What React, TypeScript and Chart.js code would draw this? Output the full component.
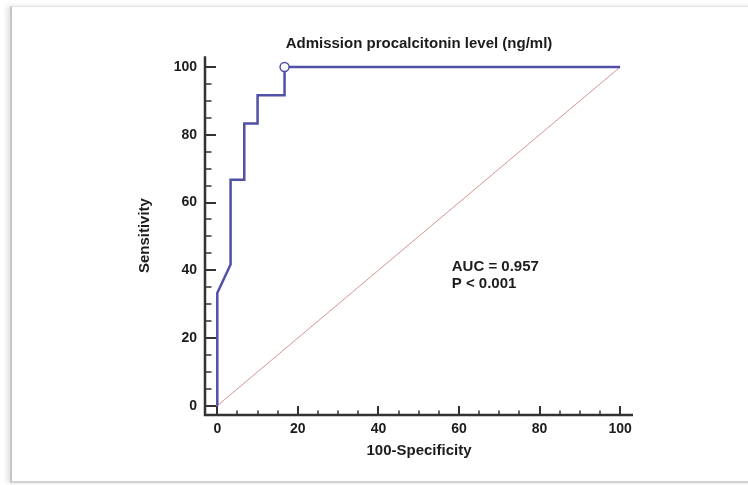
import React, { useEffect, useRef } from 'react';
import { Chart, registerables } from 'chart.js';

Chart.register(...registerables);

const CHART_TITLE = 'Admission procalcitonin level (ng/ml)';
const X_TITLE = '100-Specificity';
const Y_TITLE = 'Sensitivity';

// ROC curve (100-Specificity, Sensitivity)
const rocFpr = [0, 0, 3.3, 3.3, 6.7, 6.7, 10, 10, 16.7, 16.7, 100];
const rocTpr = [0, 33.3, 41.7, 66.7, 66.7, 83.3, 83.3, 91.7, 91.7, 100, 100];
const markerIndex = 9;

// Reference diagonal
const refFpr = [0, 100];
const refTpr = [0, 100];

const majorTicks = [0, 20, 40, 60, 80, 100];
const minorTicks = [5, 10, 15, 25, 30, 35, 45, 50, 55, 65, 70, 75, 85, 90, 95];

const annotationLines = ['AUC = 0.957', 'P < 0.001'];
const annotationX = 58.2;
const annotationY = 41;

const FONT = 'Liberation Sans, Arial, sans-serif';
const TEXT = '#1c1c1c';
const AXIS = '#333333';
const ROC_COLOR = '#5050a8';

const axesPlugin = {
  id: 'customAxes',
  beforeDatasetsDraw(chart: any) {
    const { ctx, chartArea, scales } = chart;
    const xs = scales.x;
    const ys = scales.y;
    ctx.save();
    ctx.strokeStyle = AXIS;
    ctx.lineCap = 'butt';
    ctx.lineWidth = 2.5;
    ctx.beginPath();
    ctx.moveTo(chartArea.left, chartArea.top);
    ctx.lineTo(chartArea.left, chartArea.bottom);
    ctx.lineTo(chartArea.right, chartArea.bottom);
    ctx.stroke();
    ctx.lineWidth = 2;
    ctx.beginPath();
    majorTicks.forEach((v) => {
      const y = Math.round(ys.getPixelForValue(v));
      ctx.moveTo(chartArea.left, y);
      ctx.lineTo(chartArea.left + 11, y);
      const x = Math.round(xs.getPixelForValue(v));
      ctx.moveTo(x, chartArea.bottom);
      ctx.lineTo(x, chartArea.bottom - 9);
    });
    ctx.stroke();
    ctx.lineWidth = 1.5;
    ctx.beginPath();
    minorTicks.forEach((v) => {
      const y = Math.round(ys.getPixelForValue(v));
      ctx.moveTo(chartArea.left, y);
      ctx.lineTo(chartArea.left + 6.5, y);
      const x = Math.round(xs.getPixelForValue(v));
      ctx.moveTo(x, chartArea.bottom);
      ctx.lineTo(x, chartArea.bottom - 4.5);
    });
    ctx.stroke();
    ctx.restore();
  },
  afterDatasetsDraw(chart: any) {
    const { ctx, scales } = chart;
    const x = scales.x.getPixelForValue(annotationX);
    const y = scales.y.getPixelForValue(annotationY);
    ctx.save();
    ctx.fillStyle = TEXT;
    ctx.font = `bold 15px ${FONT}`;
    ctx.textAlign = 'left';
    ctx.textBaseline = 'middle';
    annotationLines.forEach((t, i) => ctx.fillText(t, x, y + i * 16.6));
    ctx.restore();
  },
};

export default function App() {
  const ref = useRef<HTMLCanvasElement>(null);

  useEffect(() => {
    if (!ref.current) return;
    const chart = new Chart(ref.current, {
      type: 'line',
      data: {
        datasets: [
          {
            label: 'ROC',
            data: rocFpr.map((x, i) => ({ x, y: rocTpr[i] })),
            borderColor: ROC_COLOR,
            borderWidth: 2.5,
            tension: 0,
            fill: false,
            pointRadius: rocFpr.map((_, i) => (i === markerIndex ? 4.5 : 0)),
            pointBackgroundColor: '#ffffff',
            pointBorderColor: ROC_COLOR,
            pointBorderWidth: 1.5,
            clip: false,
          },
          {
            label: 'Reference',
            data: refFpr.map((x, i) => ({ x, y: refTpr[i] })),
            borderColor: 'rgba(205, 110, 110, 0.75)',
            borderWidth: 1,
            pointRadius: 0,
            tension: 0,
            fill: false,
          },
        ],
      },
      options: {
        responsive: false,
        animation: false,
        layout: { padding: { top: 0, left: 0, right: 115, bottom: 0 } },
        plugins: {
          legend: { display: false },
          tooltip: { enabled: false },
          title: {
            display: true,
            fullSize: false,
            text: CHART_TITLE,
            color: TEXT,
            font: { family: FONT, size: 15, weight: 'bold' },
            padding: { top: 35, bottom: 3.2 },
          },
        },
        scales: {
          x: {
            type: 'linear',
            min: -3.05,
            max: 103.2,
            afterBuildTicks: (s: any) => {
              s.ticks = majorTicks.map((v) => ({ value: v }));
            },
            afterFit: (s: any) => {
              s.height = 70;
            },
            ticks: {
              autoSkip: false,
              maxRotation: 0,
              padding: 6,
              color: TEXT,
              font: { family: FONT, size: 14, weight: 'bold' },
            },
            grid: { display: false, drawTicks: false },
            border: { display: false },
            title: {
              display: true,
              text: X_TITLE,
              color: TEXT,
              font: { family: FONT, size: 15, weight: 'bold' },
              padding: { top: 0, bottom: 25 },
            },
          },
          y: {
            type: 'linear',
            min: -2.74,
            max: 103.2,
            afterBuildTicks: (s: any) => {
              s.ticks = majorTicks.map((v) => ({ value: v }));
            },
            afterFit: (s: any) => {
              s.width = 205;
            },
            ticks: {
              autoSkip: false,
              padding: 8,
              color: TEXT,
              font: { family: FONT, size: 14, weight: 'bold' },
            },
            grid: { display: false, drawTicks: false },
            border: { display: false },
            title: {
              display: true,
              text: Y_TITLE,
              color: TEXT,
              font: { family: FONT, size: 15, weight: 'bold' },
              padding: { top: 136, bottom: 0 },
            },
          },
        },
      },
      plugins: [axesPlugin],
    });
    return () => chart.destroy();
  }, []);

  return (
    <div
      style={{
        position: 'fixed',
        left: 0,
        top: 0,
        width: 748,
        height: 485,
        overflow: 'hidden',
        background: '#ffffff',
      }}
    >
      <div
        style={{
          position: 'absolute',
          left: 10,
          top: 6,
          width: 800,
          height: 474,
          borderLeft: '2px solid #c6c6c6',
          borderTop: '1px solid #e4e4e4',
          borderBottom: '2px solid #d2d2d2',
          boxShadow: '-3px 0 5px rgba(0,0,0,0.12)',
          background: '#ffffff',
        }}
      />
      <canvas
        ref={ref}
        width={748}
        height={485}
        style={{ position: 'absolute', left: 0, top: 0, display: 'block' }}
      />
    </div>
  );
}
